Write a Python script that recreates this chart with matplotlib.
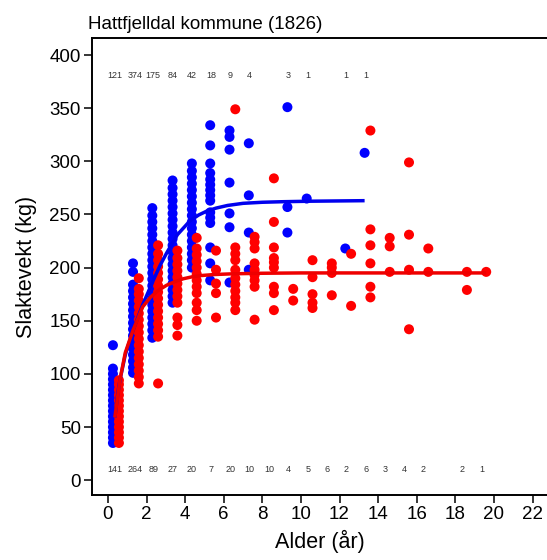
import matplotlib
matplotlib.use("Agg")
import matplotlib.pyplot as plt

plt.rcParams["font.family"] = ["Liberation Sans", "DejaVu Sans"]

# males (blue) - x position per age column and weights
male_x = [0.26, 1.3, 2.3, 3.35, 4.35, 5.3, 6.3, 7.3, 9.3, 10.3, 12.3, 13.3]
male_wt = [
    [35, 40, 45, 50, 55, 60, 65, 70, 75, 80, 85, 90, 95, 100, 105, 127],
    [101, 106, 112, 118, 124, 130, 136, 142, 148, 154, 160, 166, 172, 178, 184, 196, 204],
    [134, 141, 147, 153, 159, 165, 171, 177, 183, 189, 195, 201, 207, 213, 219, 225, 231, 237, 243, 249, 256],
    [167, 173, 179, 185, 191, 197, 203, 209, 215, 221, 227, 233, 239, 245, 251, 257, 263, 269, 275, 282],
    [200, 207, 213, 219, 225, 231, 237, 243, 249, 255, 261, 267, 273, 279, 285, 291, 298],
    [188, 204, 219, 242, 247, 252, 263, 268, 273, 278, 283, 289, 298, 315, 334],
    [186, 238, 251, 280, 311, 323, 329],
    [198, 233, 268, 317],
    [233, 257, 351],
    [265],
    [218],
    [308],
]

# females (red)
female_x = [0.57, 1.6, 2.6, 3.6, 4.6, 5.6, 6.6, 7.6, 8.6, 9.6, 10.6, 11.6, 12.6,
            13.6, 14.6, 15.6, 16.6, 18.6, 19.6]
female_wt = [
    [35, 40, 45, 50, 55, 60, 65, 70, 75, 80, 85, 90, 94],
    [91, 97, 103, 109, 115, 121, 127, 133, 139, 145, 151, 157, 163, 169, 175, 180, 190],
    [91, 135, 141, 147, 153, 159, 165, 171, 177, 183, 189, 195, 201, 207, 213, 221],
    [136, 146, 153, 167, 173, 179, 185, 191, 197, 203, 209, 216],
    [150, 160, 167, 176, 182, 188, 194, 200, 206, 212, 218, 228],
    [153, 176, 185, 198, 216],
    [160, 167, 172, 178, 184, 190, 198, 207, 213, 219, 349],
    [151, 182, 188, 193, 198, 204, 218, 224, 229],
    [160, 176, 182, 200, 205, 209, 219, 243, 284],
    [169, 180],
    [162, 167, 175, 191, 207],
    [174, 195, 200, 204],
    [164, 213],
    [172, 182, 204, 221, 236, 329],
    [196, 220, 228],
    [142, 198, 231, 299],
    [196, 218],
    [179, 196],
    [196],
]

# fitted growth curves
male_curve_x = [0.36, 0.5, 0.62, 0.9, 1.3, 1.8, 2.35, 2.7, 3.05, 3.6, 4.25, 4.7, 5.1,
                5.6, 6.2, 7.0, 8.0, 9.0, 10.5, 13.3]
male_curve_y = [59, 80, 94, 118, 141, 165, 188, 202, 214, 231, 244, 249.5, 253, 256,
                258.5, 260.5, 261.5, 262, 262.5, 263]
female_curve_x = [0.36, 0.5, 0.62, 0.9, 1.3, 1.8, 2.2, 2.6, 3.05, 3.5, 3.9, 4.4, 4.8,
                  5.5, 6.5, 8.0, 10.0, 13.0, 19.6]
female_curve_y = [59, 78, 94, 120, 141, 163, 172, 178.5, 183.5, 187, 189.5, 191.5, 192.5,
                  193.5, 194.2, 194.7, 195, 195, 195]

# sample sizes per age
male_n_x = [0.36, 1.4, 2.35, 3.35, 4.35, 5.35, 6.35, 7.35, 9.35, 10.35, 12.35, 13.35]
male_n = ["121", "374", "175", "84", "42", "18", "9", "4", "3", "1", "1", "1"]
female_n_x = [0.36, 1.4, 2.35, 3.35, 4.35, 5.35, 6.35, 7.35, 8.35, 9.35, 10.35, 11.35,
              12.35, 13.35, 14.35, 15.35, 16.35, 18.35, 19.35]
female_n = ["141", "264", "89", "27", "20", "7", "20", "10", "10", "4", "5", "6",
            "2", "6", "3", "4", "2", "2", "1"]

fig = plt.figure(figsize=(5.47, 5.6), dpi=100)
ax = fig.add_axes([0.168, 0.116, 0.832, 0.816])

for x, ws in zip(male_x, male_wt):
    ax.scatter([x] * len(ws), ws, s=52, color="#0000ff", edgecolors="none", zorder=2)
for x, ws in zip(female_x, female_wt):
    ax.scatter([x] * len(ws), ws, s=52, color="#ff0000", edgecolors="none", zorder=3)

ax.plot(male_curve_x, male_curve_y, color="#0000ee", lw=2.5, zorder=4,
        solid_capstyle="butt", solid_joinstyle="round")
ax.plot(female_curve_x, female_curve_y, color="#ee0000", lw=2.5, zorder=5,
        solid_capstyle="butt", solid_joinstyle="round")

for x, t in zip(male_n_x, male_n):
    ax.text(x, 381, t, ha="center", va="center", fontsize=6.5, color="#333333")
for x, t in zip(female_n_x, female_n):
    ax.text(x, 10, t, ha="center", va="center", fontsize=6.5, color="#333333")

ax.set_xlim(-0.83, 22.75)
ax.set_ylim(-14, 416)
ax.set_xticks(range(0, 23, 2))
ax.set_yticks(range(0, 401, 50))
ax.tick_params(axis="both", labelsize=13.5, length=6, width=1.1, pad=2, direction="out")
ax.spines["right"].set_visible(False)
for s in ["left", "top", "bottom"]:
    ax.spines[s].set_linewidth(1.4)

ax.set_xlabel("Alder (år)", fontsize=15.5, labelpad=5)
ax.set_ylabel("Slaktevekt (kg)", fontsize=15.5, labelpad=9)
ax.text(-0.008, 1.012, "Hattfjelldal kommune (1826)", transform=ax.transAxes,
        fontsize=13.5, ha="left", va="bottom")

fig.savefig("out.png", dpi=100)
